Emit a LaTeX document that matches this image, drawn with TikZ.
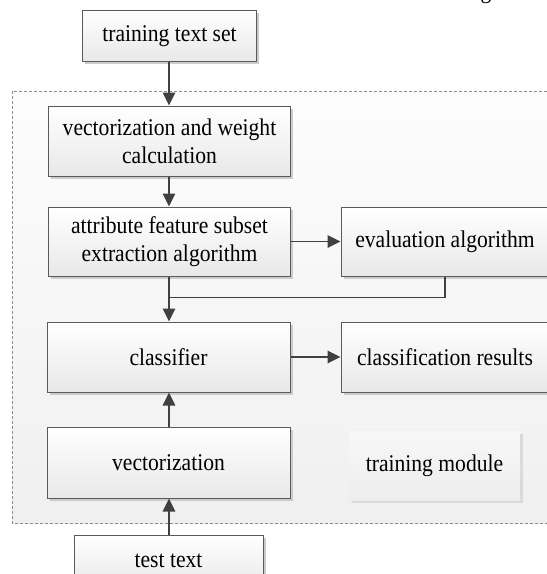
\documentclass[tikz,border=0pt]{standalone}
\usepackage{fontspec}
\setmainfont{Liberation Serif}[FakeStretch=0.9]
\usetikzlibrary{arrows.meta,shadows}
\definecolor{boxline}{HTML}{5A5A5A}
\definecolor{arrowc}{HTML}{404040}
\tikzset{
  box/.style={draw=boxline, line width=1pt, top color=white, bottom color=black!9,
    drop shadow={shadow xshift=2.5pt, shadow yshift=-2.5pt, fill=black!20, opacity=1},
    align=center, inner sep=2pt, font=\fontsize{24}{28}\selectfont},
  plainbox/.style={draw=none, top color=white!97!black, bottom color=black!7,
    drop shadow={shadow xshift=2.5pt, shadow yshift=-2.5pt, fill=black!15, opacity=1},
    align=center, font=\fontsize{24}{28}\selectfont},
  conn/.style={draw=arrowc, line width=1.8pt, -{Triangle[length=13pt,width=12.5pt]}},
  plainconn/.style={draw=arrowc, line width=1.8pt},
}
\begin{document}
\begin{tikzpicture}[x=1pt,y=-1pt]
\useasboundingbox (0,0) rectangle (547,574);
% training module region
\path[draw=black!45, densely dashed, line width=0.6pt, top color=black!1, bottom color=black!6]
  (12,91) rectangle (600,523);
% cut-off title fragment
\node[anchor=base, font=\fontsize{24}{28}\selectfont, inner sep=0] (ttl) at (486,-2) {g};
% nodes
\node[box, minimum width=174pt, minimum height=51.5pt] (tts) at (169.5,36) {training text set};
\node[box, minimum width=242pt, minimum height=70pt] (vwc) at (169.5,141) {vectorization and weight\\calculation};
\node[box, minimum width=242pt, minimum height=69pt] (attr) at (169.5,241.5) {attribute feature subset\\extraction algorithm};
\node[box, minimum width=208pt, minimum height=69pt] (eval) at (445,241.5) {evaluation algorithm};
\node[box, minimum width=243pt, minimum height=70pt] (cls) at (168.5,357) {classifier};
\node[box, minimum width=208pt, minimum height=70pt] (res) at (445,357) {classification results};
\node[box, minimum width=243pt, minimum height=71pt] (vec) at (168.5,462.5) {vectorization};
\node[plainbox, minimum width=171pt, minimum height=69pt] (tm) at (434.5,465.5) {training module};
\node[box, minimum width=189pt, minimum height=52pt] (tst) at (168.5,561) {test text};
% connectors
\coordinate (j) at (169,297.5);
\draw[conn] (tts.south -| 169,0) -- (vwc.north -| 169,0);
\draw[conn] (vwc.south -| 169,0) -- (attr.north -| 169,0);
\draw[conn] (attr.east) -- (eval.west);
\draw[plainconn] (eval.south) |- (j);
\draw[conn] (attr.south -| 169,0) -- (cls.north -| 169,0);
\draw[conn] (cls.east) -- (res.west);
\draw[conn] (vec.north -| 169,0) -- (cls.south -| 169,0);
\draw[conn] (tst.north -| 169,0) -- (vec.south -| 169,0);
\end{tikzpicture}
\end{document}
